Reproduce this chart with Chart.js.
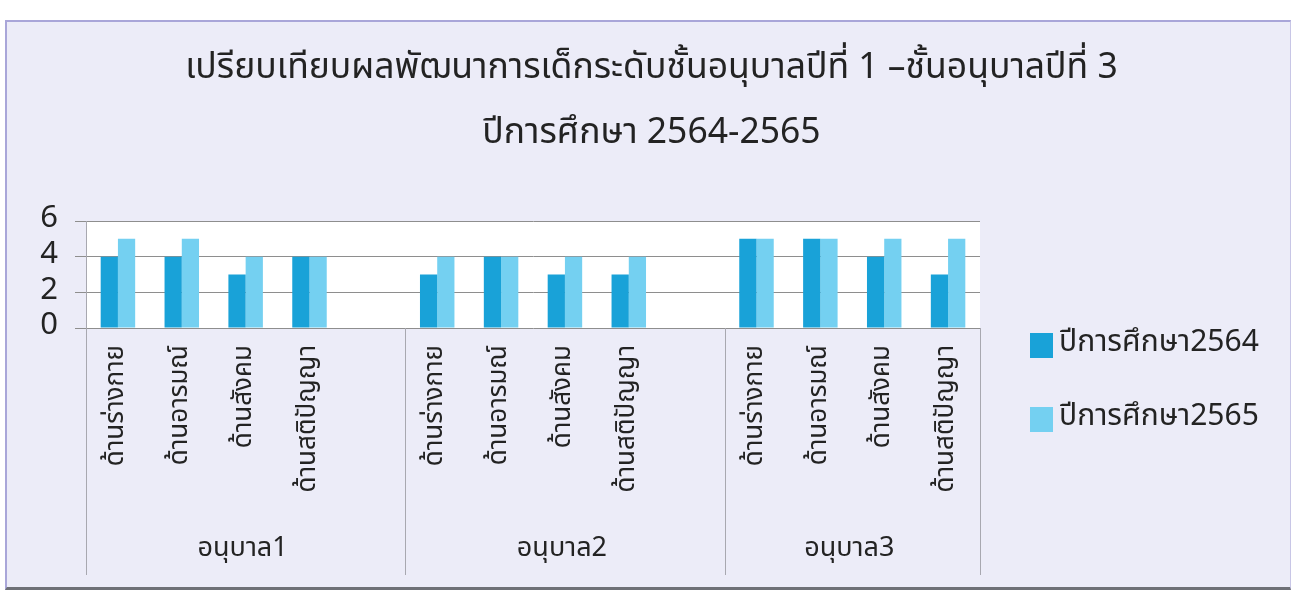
<!DOCTYPE html>
<html><head><meta charset="utf-8">
<script src="https://cdn.jsdelivr.net/npm/chart.js@4"></script>
<style>
html,body{margin:0;padding:0;background:#fff;}
#frame{position:absolute;left:5px;top:20px;width:1283px;height:565px;background:#ececf8;border-top:2px solid #a9a6d9;border-left:2px solid #a9a6d9;border-right:1px solid #c8c6e6;border-bottom:3px solid #6e7077;}
canvas{display:block}
</style></head><body>
<div id="frame"><canvas id="c"></canvas></div>
<script>
const titleLines = ['เปรียบเทียบผลพัฒนาการเด็กระดับชั้นอนุบาลปีที่ 1 –ชั้นอนุบาลปีที่ 3', 'ปีการศึกษา 2564-2565'];
const groupNames = ['อนุบาล1', 'อนุบาล2', 'อนุบาล3'];
const groupSizes = [5, 5, 4];
const categories = ['ด้านร่างกาย', 'ด้านอารมณ์', 'ด้านสังคม', 'ด้านสติปัญญา', '',
                    'ด้านร่างกาย', 'ด้านอารมณ์', 'ด้านสังคม', 'ด้านสติปัญญา', '',
                    'ด้านร่างกาย', 'ด้านอารมณ์', 'ด้านสังคม', 'ด้านสติปัญญา'];
const seriesNames = ['ปีการศึกษา2564', 'ปีการศึกษา2565'];
const series2564 = [4, 4, 3, 4, null, 3, 4, 3, 3, null, 5, 5, 4, 3];
const series2565 = [5, 5, 4, 4, null, 4, 4, 4, 4, null, 5, 5, 5, 5];
const yTicks = [0, 2, 4, 6];

const FONT = '"Noto Sans Thai", Tahoma, "Noto Sans", "DejaVu Sans", sans-serif';
const TEXT = '#232323';

const decor = {
  id: 'decor',
  beforeDraw(chart) {
    const { ctx, chartArea: a } = chart;
    ctx.save();
    ctx.fillStyle = '#ffffff';
    ctx.fillRect(a.left, a.top, a.right - a.left, a.bottom - a.top);
    ctx.restore();
  },
  afterDraw(chart) {
    const ctx = chart.ctx, x = chart.scales.x, a = chart.chartArea;
    ctx.save();
    // title
    ctx.fillStyle = TEXT;
    ctx.font = '35.5px ' + FONT;
    ctx.textAlign = 'center';
    ctx.textBaseline = 'middle';
    const ty = [49, 114];
    titleLines.forEach((t, i) => ctx.fillText(t, chart.width / 2 + 3, ty[i]));
    // group separators & labels
    const step = x.getPixelForValue(1) - x.getPixelForValue(0);
    const edges = [a.left];
    let n = 0;
    groupSizes.forEach(s => { n += s; edges.push(x.getPixelForValue(n - 1) + step / 2); });
    ctx.strokeStyle = '#a8a8b0';
    ctx.lineWidth = 1;
    edges.forEach(e => {
      const px = Math.round(e) + 0.5;
      ctx.beginPath(); ctx.moveTo(px, a.bottom); ctx.lineTo(px, x.bottom); ctx.stroke();
    });
    ctx.font = '27px ' + FONT;
    groupNames.forEach((g, i) => ctx.fillText(g, (edges[i] + edges[i + 1]) / 2 - 3, x.bottom - 24));
    // legend
    const ds = chart.data.datasets;
    const lx = a.right + 50;
    const ly = [a.top + 124, a.top + 198];
    ctx.textAlign = 'left';
    ctx.font = '30px ' + FONT;
    ds.forEach((d, i) => {
      ctx.fillStyle = d.backgroundColor;
      ctx.fillRect(lx, ly[i] - 12, 23, 25);
      ctx.fillStyle = TEXT;
      ctx.fillText(d.label, lx + 29, ly[i]);
    });
    ctx.restore();
  }
};

new Chart(document.getElementById('c'), {
  type: 'bar',
  data: {
    labels: categories,
    datasets: [
      { label: seriesNames[0], data: series2564, backgroundColor: '#19a2d8' },
      { label: seriesNames[1], data: series2565, backgroundColor: '#74d0f1' }
    ]
  },
  options: {
    responsive: true,
    maintainAspectRatio: false,
    animation: false,
    categoryPercentage: 0.54,
    barPercentage: 1.0,
    layout: { padding: { left: 0, right: 310, top: 199, bottom: 12 } },
    plugins: {
      legend: { display: false },
      tooltip: { enabled: false },
      title: { display: false }
    },
    scales: {
      x: {
        grid: { display: false, drawTicks: false },
        border: { display: false },
        ticks: {
          autoSkip: false, minRotation: 90, maxRotation: 90, padding: 17,
          color: TEXT, font: { family: FONT, size: 26 }
        },
        afterFit(s) { s.height = 247; }
      },
      y: {
        min: 0, max: 6,
        afterBuildTicks(s) { s.ticks = yTicks.map(v => ({ value: v })); },
        grid: { color: '#8e8e8e', lineWidth: 1, tickLength: 11, drawTicks: true },
        border: { display: true, color: '#a8a8b0' },
        ticks: { autoSkip: false, color: TEXT, padding: 17, font: { family: FONT, size: 31 } },
        afterFit(s) { s.width = 79; }
      }
    }
  },
  plugins: [decor]
});
</script>
</body></html>
